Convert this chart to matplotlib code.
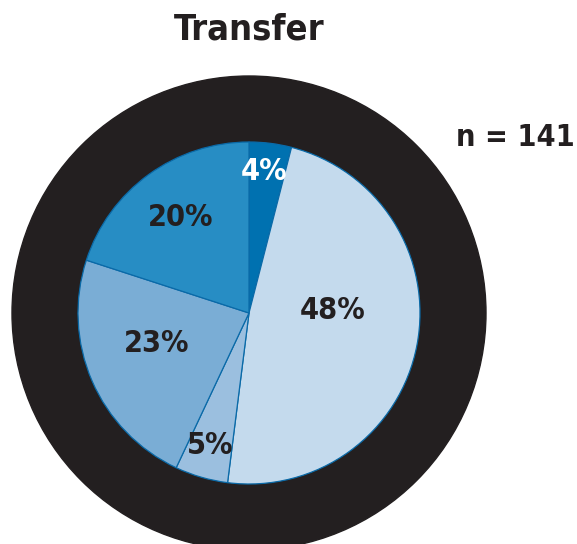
import matplotlib
matplotlib.use("Agg")
import matplotlib.pyplot as plt
from matplotlib.patches import Circle
import numpy as np

plt.rcParams['font.family'] = ['DejaVu Sans']

# data
labels = ['4%', '48%', '5%', '23%', '20%']
shares = [4, 48, 5, 23, 20]
title = 'Transfer'
n_text = 'n = 141'

colors = ['#0071b0', '#c4daed', '#9bbfdf', '#7aadd5', '#278dc4']
text_colors = ['white', '#231f20', '#231f20', '#231f20', '#231f20']
# label placement: (angle in degrees, fraction of radius)
label_pos = [(84, 0.83), (2, 0.49), (253.7, 0.81), (198, 0.57), (125.7, 0.69)]

W, H = 577, 544
fig = plt.figure(figsize=(W / 100, H / 100), dpi=100)
ax = fig.add_axes([0, 0, 1, 1])

cx, cy = 249, H - 313
r_pie = 171

# black ring behind the pie
ax.add_patch(Circle((cx, cy), 237, color='#231f20', zorder=0))

wedges, _ = ax.pie(shares, colors=colors, startangle=90, counterclock=False,
                   center=(cx, cy), radius=r_pie, frame=True,
                   wedgeprops=dict(edgecolor='#0a6aa8', linewidth=0.9))
ax.set_xlim(0, W)
ax.set_ylim(0, H)
ax.set_aspect('equal')
ax.axis('off')

for lab, tc, (a, d) in zip(labels, text_colors, label_pos):
    th = np.deg2rad(a)
    x = cx + d * r_pie * np.cos(th)
    y = cy + d * r_pie * np.sin(th)
    ax.text(x, y, lab, color=tc, fontsize=22, fontweight='bold',
            fontstretch='condensed', ha='center', va='center', zorder=5)

ax.text(cx, H - 30, title, fontsize=26, fontweight='bold', color='#231f20',
        fontstretch='condensed', ha='center', va='center')
ax.text(575, H - 137, n_text, fontsize=22, fontweight='bold', color='#231f20',
        fontstretch='condensed', ha='right', va='center')

fig.savefig('out.png', dpi=100)
